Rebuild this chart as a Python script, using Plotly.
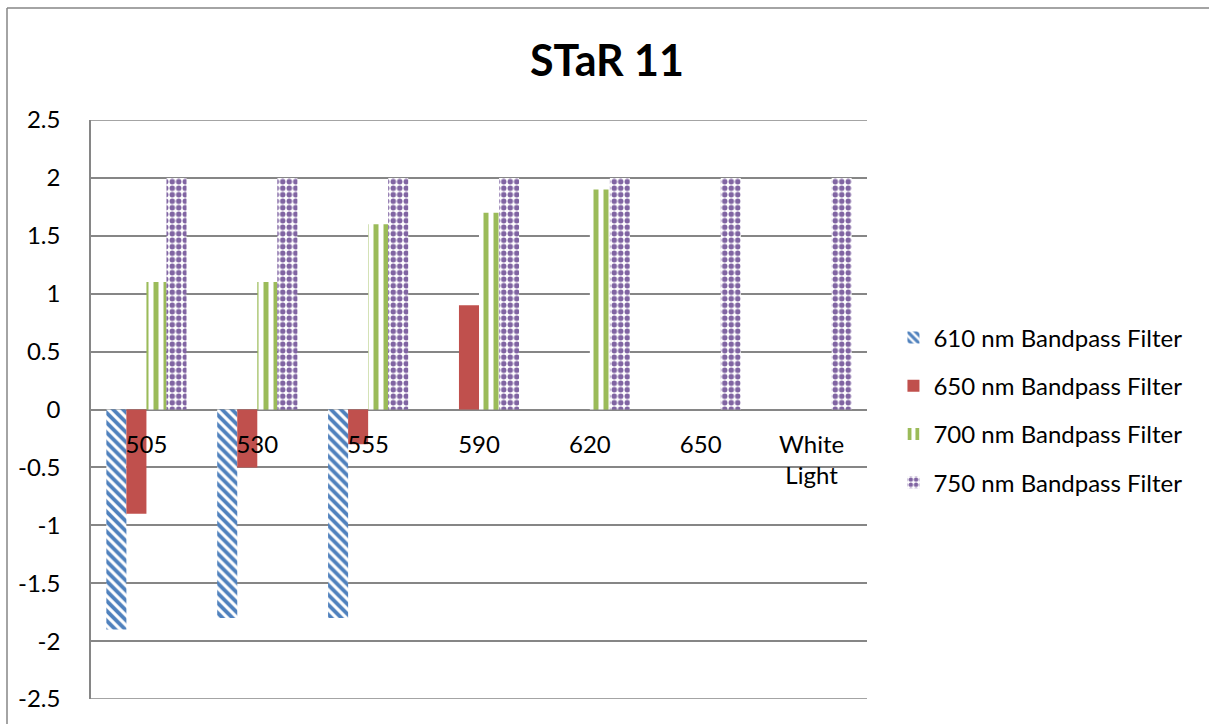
import plotly.graph_objects as go

# Categories along the x axis (excitation wavelength, nm)
categories = ["505", "530", "555", "590", "620", "650", "White<br>Light"]

# Readings per bandpass filter
filter_610 = [-1.9, -1.8, -1.8, 0, 0, 0, 0]
filter_650 = [-0.9, -0.5, -0.3, 0.9, 0, 0, 0]
filter_700 = [1.1, 1.1, 1.6, 1.7, 1.9, 0, 0]
filter_750 = [2, 2, 2, 2, 2, 2, 2]

y_ticks = [2.5, 2, 1.5, 1, 0.5, 0, -0.5, -1, -1.5, -2, -2.5]
y_tick_text = ["2.5", "2", "1.5", "1", "0.5", "0", "-0.5", "-1", "-1.5", "-2", "-2.5"]

W, H = 1209, 724
FONT = "Lato"
GRID = "#868686"

# plot-area placement in pixels
px_left, px_right = 91, 867
px_top, px_bottom = 120, 699
x_dom = [px_left / W, px_right / W]
y_dom = [1 - px_bottom / H, 1 - px_top / H]
zero_pos = (y_dom[0] + y_dom[1]) / 2

fig = go.Figure()

fig.add_trace(go.Bar(
    x=categories, y=filter_610, name="610 nm Bandpass Filter",
    marker=dict(color="#4F81BD", line=dict(width=0),
                pattern=dict(shape="\\", fgcolor="#4F81BD", bgcolor="white",
                             fgopacity=1, size=7, solidity=0.55)),
    legendgroup="a",
))
fig.add_trace(go.Bar(
    x=categories, y=filter_650, name="650 nm Bandpass Filter",
    marker=dict(color="#C0504D", line=dict(width=0)),
    legendgroup="b",
))
fig.add_trace(go.Bar(
    x=categories, y=filter_700, name="700 nm Bandpass Filter",
    marker=dict(color="#9BBB59", line=dict(width=0),
                pattern=dict(shape="|", fgcolor="#9BBB59", bgcolor="white",
                             fgopacity=1, size=10, solidity=0.5)),
    legendgroup="c",
))
fig.add_trace(go.Bar(
    x=categories, y=filter_750, name="750 nm Bandpass Filter",
    marker=dict(color="#8064A2", line=dict(width=0),
                pattern=dict(shape=".", fgcolor="#8064A2", bgcolor="white",
                             fgopacity=1, size=6.5, solidity=0.55)),
    legendgroup="d",
))

fig.update_layout(
    width=W, height=H,
    margin=dict(l=0, r=0, t=0, b=0, autoexpand=False),
    paper_bgcolor="white", plot_bgcolor="white",
    barmode="group", bargap=0.277, bargroupgap=0,
    font=dict(family=FONT, color="black", size=24),
    title=dict(text="<b>STaR 11</b>", x=607 / W, xanchor="center",
               y=1 - 61 / H, yanchor="middle",
               font=dict(family=FONT, size=43, color="black")),
    xaxis=dict(domain=x_dom, anchor="free", position=zero_pos,
               automargin=False,
               showline=False, showgrid=False, zeroline=False,
               ticks="", tickfont=dict(size=24), ticklabelstandoff=18),
    yaxis=dict(domain=y_dom, range=[-2.5, 2.5], tickvals=y_ticks,
               ticktext=y_tick_text, automargin=False,
               showgrid=True, gridcolor=GRID,
               gridwidth=1.5, zeroline=True, zerolinecolor=GRID,
               zerolinewidth=1.5, showline=True, linecolor=GRID,
               linewidth=1.5, ticks="", ticklabelstandoff=24,
               tickfont=dict(size=24)),
    legend=dict(x=0.739, y=1 - 410 / H, xanchor="left", yanchor="middle",
                font=dict(size=24), tracegroupgap=14,
                bgcolor="rgba(0,0,0,0)"),
    showlegend=True,
    shapes=[
        # outer chart frame (top and left edges)
        dict(type="line", xref="paper", yref="paper",
             x0=7 / W, x1=1.02, y0=1 - 8 / H, y1=1 - 8 / H,
             line=dict(color=GRID, width=1.5)),
        dict(type="line", xref="paper", yref="paper",
             x0=7 / W, x1=7 / W, y0=1 - 8 / H, y1=-0.02,
             line=dict(color=GRID, width=1.5)),
        # gridlines on the range limits
        dict(type="line", xref="x domain", yref="y",
             x0=0, x1=1, y0=2.5, y1=2.5, line=dict(color=GRID, width=1.5)),
        dict(type="line", xref="x domain", yref="y",
             x0=0, x1=1, y0=-2.5, y1=-2.5, line=dict(color=GRID, width=1.5)),
    ],
)

fig.write_html("out.html")
